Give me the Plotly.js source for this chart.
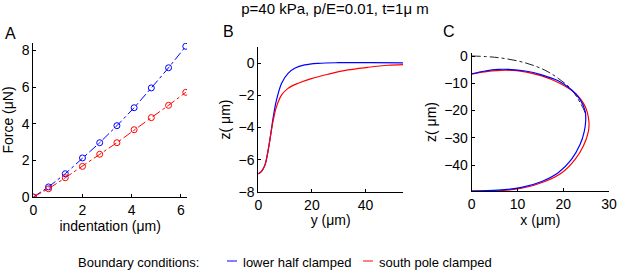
<!DOCTYPE html>
<html>
<head>
<meta charset="utf-8">
<script src="https://cdn.plot.ly/plotly-3.0.1.min.js"></script>
<style>html,body{margin:0;padding:0;background:#fff;}#chart{width:617px;height:278px;}</style>
</head>
<body>
<div id="chart"></div>
<script>
// Panel A: force vs indentation
const indentation = [0, 0.62, 1.3, 2.0, 2.7, 3.4, 4.1, 4.8, 5.5, 6.2];
const forceLowerHalf = [0, 0.55, 1.27, 2.13, 2.96, 3.89, 4.87, 5.95, 7.05, 8.22];
const forceSouthPole = [0, 0.45, 1.05, 1.67, 2.33, 2.96, 3.67, 4.33, 5.0, 5.71];

// Panel B: surface profile z(y)
const bYLower = [0, 1.2, 2.5, 3.7, 4.7, 5.6, 6.8, 8.7, 11.1, 13.6, 17.3, 22.3, 29.7, 42, 54];
const bZLower = [-6.89, -6.74, -6.33, -5.4, -4.36, -3.32, -2.28, -1.24, -0.62, -0.31, -0.10, 0, 0.04, 0.04, 0.03];
const bYSouth = [0, 1.2, 2.5, 3.7, 4.7, 5.6, 6.8, 8.7, 11.1, 14.9, 19.8, 26, 33.4, 40.8, 48.3, 54];
const bZSouth = [-6.89, -6.74, -6.33, -5.4, -4.36, -3.53, -2.7, -1.97, -1.56, -1.24, -0.95, -0.68, -0.41, -0.25, -0.12, -0.08];

// Panel C: cell shape x-z
const cXLower = [0, 2.9, 5.8, 8, 11.7, 15.3, 18.9, 21.8, 23.7, 24.8, 24.9, 24.6, 23.7, 21.8, 18.9, 15.3, 10.9, 5.8, 0];
const cZLower = [-6.56, -5.5, -4.9, -4.9, -5.5, -6.9, -9.1, -12.4, -16, -20.3, -23.9, -27.6, -32.4, -37.9, -42.8, -46, -48.2, -49.2, -49.5];
const cXSouth = [0, 2.9, 7.3, 11.7, 15.3, 18.9, 22.6, 24.8, 25.6, 25.5, 24.4, 22.6, 19.7, 16, 10.9, 5.8, 0];
const cZSouth = [-6.56, -5.8, -5.2, -5.8, -7.3, -9.7, -13.6, -18.5, -23.9, -27.6, -33, -37.9, -42.8, -46, -48.5, -49.4, -49.5];
const cXInitial = [0, 5.8, 11.7, 16, 18.9, 21.8, 24.4, 24.8];
const cZInitial = [0, -0.6, -2.5, -5.2, -8.2, -12.3, -19.3, -21];

// Labels
const titleText = 'p=40 kPa, p/E=0.01, t=1\u03bc m';
const seriesNames = ['lower half clamped', 'south pole clamped'];
const legendHeading = 'Boundary conditions:';
const panelLetters = ['A', 'B', 'C'];

const BLUE = '#0000ff', RED = '#ff0000';
const FONT = 'Liberation Sans, Arial, Helvetica, sans-serif';

const traces = [
  {x: indentation, y: forceLowerHalf, xaxis: 'x', yaxis: 'y', mode: 'lines+markers', name: seriesNames[0],
   line: {color: BLUE, width: 1, dash: 'dashdot'}, marker: {symbol: 'circle-open', size: 6, color: BLUE, line: {width: 1}}},
  {x: indentation, y: forceSouthPole, xaxis: 'x', yaxis: 'y', mode: 'lines+markers', name: seriesNames[1],
   line: {color: RED, width: 1, dash: 'dashdot'}, marker: {symbol: 'circle-open', size: 6, color: RED, line: {width: 1}}},
  {x: bYLower, y: bZLower, xaxis: 'x2', yaxis: 'y2', mode: 'lines', name: seriesNames[0],
   line: {color: BLUE, width: 1.2, shape: 'spline'}},
  {x: bYSouth, y: bZSouth, xaxis: 'x2', yaxis: 'y2', mode: 'lines', name: seriesNames[1],
   line: {color: RED, width: 1.2, shape: 'spline'}},
  {x: cXInitial, y: cZInitial, xaxis: 'x3', yaxis: 'y3', mode: 'lines', name: 'initial',
   line: {color: '#222', width: 1, dash: 'dashdot', shape: 'spline'}},
  {x: cXSouth, y: cZSouth, xaxis: 'x3', yaxis: 'y3', mode: 'lines', name: seriesNames[1],
   line: {color: RED, width: 1.2, shape: 'spline'}},
  {x: cXLower, y: cZLower, xaxis: 'x3', yaxis: 'y3', mode: 'lines', name: seriesNames[0],
   line: {color: BLUE, width: 1.2, shape: 'spline'}}
];

function ax(extra) {
  return Object.assign({
    showline: true, linecolor: '#000', linewidth: 1, mirror: false,
    ticks: 'inside', ticklen: 3, tickcolor: '#000', tickwidth: 1,
    showgrid: false, zeroline: false, automargin: false,
    tickfont: {family: FONT, size: 14, color: '#000'}
  }, extra);
}
const tFont = {family: FONT, size: 14, color: '#000'};

const layout = {
  width: 617, height: 278,
  margin: {l: 0, r: 0, t: 0, b: 0},
  paper_bgcolor: '#fff', plot_bgcolor: 'rgba(0,0,0,0)',
  showlegend: false,
  font: {family: FONT, color: '#000'},
  title: {text: titleText, font: {family: FONT, size: 15, color: '#000'}, x: 335 / 617, xanchor: 'center', y: 1 - 9 / 278, yanchor: 'middle'},
  xaxis: ax({domain: [33.3 / 617, 187 / 617], range: [0, 6.25], tickvals: [0, 2, 4, 6], anchor: 'y',
    title: {text: 'indentation (\u03bcm)', font: tFont, standoff: 0}}),
  yaxis: ax({domain: [81 / 278, 235 / 278], range: [0, 8.4], tickvals: [0, 2, 4, 6, 8], anchor: 'x',
    title: {text: 'Force (\u03bcN)', font: tFont, standoff: 4}}),
  xaxis2: ax({domain: [258.3 / 617, 403 / 617], range: [0, 54], tickvals: [0, 20, 40], anchor: 'y2',
    title: {text: 'y (\u03bcm)', font: tFont, standoff: 0}}),
  yaxis2: ax({domain: [86.3 / 278, 230.7 / 278], range: [-8, 1], tickvals: [-8, -6, -4, -2, 0], anchor: 'x2',
    title: {text: 'z( \u03bcm)', font: tFont, standoff: 4}}),
  xaxis3: ax({domain: [471.7 / 617, 609 / 617], range: [0, 30], tickvals: [0, 10, 20, 30], anchor: 'y3',
    title: {text: 'x (\u03bcm)', font: tFont, standoff: 0}}),
  yaxis3: ax({domain: [87 / 278, 225 / 278], range: [-49.5, 1.1], tickvals: [-40, -30, -20, -10, 0], anchor: 'x3',
    title: {text: 'z( \u03bcm)', font: tFont, standoff: 4}}),
  annotations: [
    {text: panelLetters[0], xref: 'paper', yref: 'paper', x: 10 / 617, y: 1 - 33 / 278, showarrow: false, xanchor: 'center', yanchor: 'middle', font: {family: FONT, size: 16, color: '#000'}},
    {text: panelLetters[1], xref: 'paper', yref: 'paper', x: 228 / 617, y: 1 - 32 / 278, showarrow: false, xanchor: 'center', yanchor: 'middle', font: {family: FONT, size: 16, color: '#000'}},
    {text: panelLetters[2], xref: 'paper', yref: 'paper', x: 449 / 617, y: 1 - 32 / 278, showarrow: false, xanchor: 'center', yanchor: 'middle', font: {family: FONT, size: 16, color: '#000'}},
    {text: legendHeading, xref: 'paper', yref: 'paper', x: 76 / 617, y: 1 - 262 / 278, showarrow: false, xanchor: 'left', yanchor: 'middle', font: {family: FONT, size: 13, color: '#000'}},
    {text: seriesNames[0], xref: 'paper', yref: 'paper', x: 240.5 / 617, y: 1 - 262 / 278, showarrow: false, xanchor: 'left', yanchor: 'middle', font: {family: FONT, size: 13, color: '#000'}},
    {text: seriesNames[1], xref: 'paper', yref: 'paper', x: 377 / 617, y: 1 - 262 / 278, showarrow: false, xanchor: 'left', yanchor: 'middle', font: {family: FONT, size: 13, color: '#000'}}
  ],
  shapes: [
    {type: 'line', xref: 'paper', yref: 'paper', x0: 227 / 617, x1: 237 / 617, y0: 1 - 261 / 278, y1: 1 - 261 / 278, line: {color: BLUE, width: 1}},
    {type: 'line', xref: 'paper', yref: 'paper', x0: 363 / 617, x1: 373 / 617, y0: 1 - 261 / 278, y1: 1 - 261 / 278, line: {color: RED, width: 1}}
  ]
};

Plotly.newPlot('chart', traces, layout, {staticPlot: true, displayModeBar: false});
</script>
</body>
</html>
